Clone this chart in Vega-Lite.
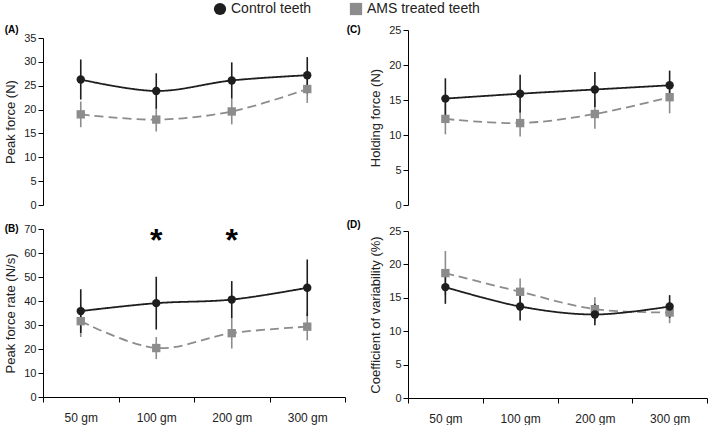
{
  "$schema": "https://vega.github.io/schema/vega-lite/v6.json",
  "padding": {"left": 4, "top": 2, "right": 0, "bottom": 2},
  "config": {
    "font": "Liberation Sans",
    "view": {"stroke": null},
    "axis": {"domainColor": "#000", "tickColor": "#000", "labelColor": "#222", "labelFontSize": 11, "titleFontSize": 13, "titleFontWeight": "normal", "titleColor": "#222", "grid": false, "tickSize": 5, "titlePadding": 6, "labelOverlap": false},
    "title": {"fontSize": 10, "fontWeight": "bold", "anchor": "start", "frame": "bounds", "color": "#000", "offset": 2}
  },
  "datasets": {
    "A": [
      {"dose": "50 gm", "group": "AMS treated teeth", "mean": 19.0, "lo": 16.3, "hi": 21.7},
      {"dose": "100 gm", "group": "AMS treated teeth", "mean": 17.9, "lo": 15.4, "hi": 20.4},
      {"dose": "200 gm", "group": "AMS treated teeth", "mean": 19.6, "lo": 16.9, "hi": 22.3},
      {"dose": "300 gm", "group": "AMS treated teeth", "mean": 24.3, "lo": 21.4, "hi": 27.2},
      {"dose": "50 gm", "group": "Control teeth", "mean": 26.3, "lo": 22.1, "hi": 30.5},
      {"dose": "100 gm", "group": "Control teeth", "mean": 23.9, "lo": 20.2, "hi": 27.6},
      {"dose": "200 gm", "group": "Control teeth", "mean": 26.1, "lo": 22.3, "hi": 29.9},
      {"dose": "300 gm", "group": "Control teeth", "mean": 27.2, "lo": 23.4, "hi": 31.0}
    ],
    "B": [
      {"dose": "50 gm", "group": "AMS treated teeth", "mean": 31.6, "lo": 25.0, "hi": 38.2},
      {"dose": "100 gm", "group": "AMS treated teeth", "mean": 20.4, "lo": 15.8, "hi": 25.0},
      {"dose": "200 gm", "group": "AMS treated teeth", "mean": 26.6, "lo": 20.2, "hi": 33.0},
      {"dose": "300 gm", "group": "AMS treated teeth", "mean": 29.3, "lo": 23.6, "hi": 35.0},
      {"dose": "50 gm", "group": "Control teeth", "mean": 35.8, "lo": 26.7, "hi": 44.9},
      {"dose": "100 gm", "group": "Control teeth", "mean": 39.1, "lo": 28.1, "hi": 50.1},
      {"dose": "200 gm", "group": "Control teeth", "mean": 40.6, "lo": 32.9, "hi": 48.3},
      {"dose": "300 gm", "group": "Control teeth", "mean": 45.5, "lo": 33.7, "hi": 57.3}
    ],
    "C": [
      {"dose": "50 gm", "group": "AMS treated teeth", "mean": 12.3, "lo": 10.1, "hi": 14.5},
      {"dose": "100 gm", "group": "AMS treated teeth", "mean": 11.7, "lo": 9.8, "hi": 13.6},
      {"dose": "200 gm", "group": "AMS treated teeth", "mean": 13.0, "lo": 10.9, "hi": 15.1},
      {"dose": "300 gm", "group": "AMS treated teeth", "mean": 15.4, "lo": 13.1, "hi": 17.7},
      {"dose": "50 gm", "group": "Control teeth", "mean": 15.2, "lo": 12.3, "hi": 18.1},
      {"dose": "100 gm", "group": "Control teeth", "mean": 15.9, "lo": 13.2, "hi": 18.6},
      {"dose": "200 gm", "group": "Control teeth", "mean": 16.5, "lo": 14.0, "hi": 19.0},
      {"dose": "300 gm", "group": "Control teeth", "mean": 17.1, "lo": 15.0, "hi": 19.2}
    ],
    "D": [
      {"dose": "50 gm", "group": "AMS treated teeth", "mean": 18.7, "lo": 15.4, "hi": 22.0},
      {"dose": "100 gm", "group": "AMS treated teeth", "mean": 15.9, "lo": 13.9, "hi": 17.9},
      {"dose": "200 gm", "group": "AMS treated teeth", "mean": 13.3, "lo": 11.5, "hi": 15.1},
      {"dose": "300 gm", "group": "AMS treated teeth", "mean": 12.8, "lo": 11.2, "hi": 14.4},
      {"dose": "50 gm", "group": "Control teeth", "mean": 16.6, "lo": 14.1, "hi": 19.1},
      {"dose": "100 gm", "group": "Control teeth", "mean": 13.7, "lo": 11.6, "hi": 15.8},
      {"dose": "200 gm", "group": "Control teeth", "mean": 12.5, "lo": 10.9, "hi": 14.1},
      {"dose": "300 gm", "group": "Control teeth", "mean": 13.7, "lo": 12.0, "hi": 15.4}
    ],
    "stars": [
      {"dose": "100 gm", "y": 65, "t": "*"},
      {"dose": "200 gm", "y": 65, "t": "*"}
    ]
  },
  "hconcat": [
    {
      "spacing": 24,
      "bounds": "flush",
      "vconcat": [
        {
          "title": {"text": "(A)", "dy": 7},
          "width": 302, "height": 175,
          "data": {"name": "A"},
          "encoding": {
            "x": {"field": "dose", "type": "ordinal", "sort": ["50 gm", "100 gm", "200 gm", "300 gm"], "scale": {"type": "band", "paddingInner": 0, "paddingOuter": 0}, "axis": null},
            "color": {"field": "group", "type": "nominal", "scale": {"domain": ["Control teeth", "AMS treated teeth"], "range": ["#1e1e1e", "#8c8c8c"]}, "legend": {"orient": "none", "legendX": 170, "legendY": -28, "direction": "horizontal", "title": null, "labelFontSize": 14, "labelColor": "#222", "symbolSize": 150, "columnPadding": 37, "labelOffset": 4, "symbolStrokeWidth": 0}}
          },
          "layer": [
            {"mark": {"type": "rule", "strokeWidth": 1.6}, "encoding": {"y": {"field": "lo", "type": "quantitative", "scale": {"domain": [0, 35], "nice": false, "range": [175, 8]}, "axis": {"values": [0, 5, 10, 15, 20, 25, 30, 35], "title": "Peak force (N)"}}, "y2": {"field": "hi"}}},
            {"mark": {"type": "line", "strokeWidth": 1.8, "interpolate": "catmull-rom"}, "encoding": {"y": {"field": "mean", "type": "quantitative", "scale": {"domain": [0, 35], "nice": false, "range": [175, 8]}, "axis": {"values": [0, 5, 10, 15, 20, 25, 30, 35], "title": "Peak force (N)"}}, "strokeDash": {"field": "group", "type": "nominal", "scale": {"domain": ["Control teeth", "AMS treated teeth"], "range": [[1, 0], [9, 5]]}, "legend": null}}},
            {"mark": {"type": "point", "filled": true, "opacity": 1, "size": 70}, "encoding": {"y": {"field": "mean", "type": "quantitative", "scale": {"domain": [0, 35], "nice": false, "range": [175, 8]}, "axis": {"values": [0, 5, 10, 15, 20, 25, 30, 35], "title": "Peak force (N)"}}, "shape": {"field": "group", "type": "nominal", "scale": {"domain": ["Control teeth", "AMS treated teeth"], "range": ["circle", "square"]}, "legend": {"orient": "none", "legendX": 170, "legendY": -28, "direction": "horizontal", "title": null, "labelFontSize": 14, "labelColor": "#222", "symbolSize": 150, "columnPadding": 37, "labelOffset": 4, "symbolStrokeWidth": 0}}}}
          ]
        },
        {
          "title": {"text": "(B)", "dy": 13},
          "width": 302, "height": 168,
          "data": {"name": "B"},
          "encoding": {
            "x": {"field": "dose", "type": "ordinal", "sort": ["50 gm", "100 gm", "200 gm", "300 gm"], "scale": {"type": "band", "paddingInner": 0, "paddingOuter": 0}, "axis": {"title": null, "tickBand": "extent", "labelAngle": 0, "labelFontSize": 12, "labelPadding": 10}},
            "color": {"field": "group", "type": "nominal"}
          },
          "layer": [
            {"mark": {"type": "rule", "strokeWidth": 1.6}, "encoding": {"y": {"field": "lo", "type": "quantitative", "scale": {"domain": [0, 70], "nice": false}, "axis": {"values": [0, 10, 20, 30, 40, 50, 60, 70], "title": "Peak force rate (N/s)"}}, "y2": {"field": "hi"}}},
            {"mark": {"type": "line", "strokeWidth": 1.8, "interpolate": "catmull-rom"}, "encoding": {"y": {"field": "mean", "type": "quantitative", "scale": {"domain": [0, 70], "nice": false}, "axis": {"values": [0, 10, 20, 30, 40, 50, 60, 70], "title": "Peak force rate (N/s)"}}, "strokeDash": {"field": "group", "type": "nominal", "legend": null}}},
            {"mark": {"type": "point", "filled": true, "opacity": 1, "size": 70}, "encoding": {"y": {"field": "mean", "type": "quantitative", "scale": {"domain": [0, 70], "nice": false}, "axis": {"values": [0, 10, 20, 30, 40, 50, 60, 70], "title": "Peak force rate (N/s)"}}, "shape": {"field": "group", "type": "nominal"}}},
            {"data": {"name": "stars"}, "mark": {"type": "text", "fontSize": 32, "fontWeight": "bold", "baseline": "middle", "color": "#000"}, "encoding": {"y": {"field": "y", "type": "quantitative", "scale": {"domain": [0, 70], "nice": false}, "axis": {"values": [0, 10, 20, 30, 40, 50, 60, 70], "title": "Peak force rate (N/s)"}}, "text": {"field": "t"}, "color": {"value": "#000"}}}
          ]
        }
      ]
    },
    {
      "spacing": 26,
      "bounds": "flush",
      "vconcat": [
        {
          "title": {"text": "(C)", "dy": 13, "dx": -23},
          "width": 299, "height": 175,
          "data": {"name": "C"},
          "encoding": {
            "x": {"field": "dose", "type": "ordinal", "sort": ["50 gm", "100 gm", "200 gm", "300 gm"], "scale": {"type": "band", "paddingInner": 0, "paddingOuter": 0}, "axis": null},
            "color": {"field": "group", "type": "nominal"}
          },
          "layer": [
            {"mark": {"type": "rule", "strokeWidth": 1.6}, "encoding": {"y": {"field": "lo", "type": "quantitative", "scale": {"domain": [0, 25], "nice": false}, "axis": {"values": [0, 5, 10, 15, 20, 25], "title": "Holding force (N)"}}, "y2": {"field": "hi"}}},
            {"mark": {"type": "line", "strokeWidth": 1.8, "interpolate": "catmull-rom"}, "encoding": {"y": {"field": "mean", "type": "quantitative", "scale": {"domain": [0, 25], "nice": false}, "axis": {"values": [0, 5, 10, 15, 20, 25], "title": "Holding force (N)"}}, "strokeDash": {"field": "group", "type": "nominal", "legend": null}}},
            {"mark": {"type": "point", "filled": true, "opacity": 1, "size": 70}, "encoding": {"y": {"field": "mean", "type": "quantitative", "scale": {"domain": [0, 25], "nice": false}, "axis": {"values": [0, 5, 10, 15, 20, 25], "title": "Holding force (N)"}}, "shape": {"field": "group", "type": "nominal"}}}
          ]
        },
        {
          "title": {"text": "(D)", "dy": 7, "dx": -23},
          "width": 299, "height": 167,
          "data": {"name": "D"},
          "encoding": {
            "x": {"field": "dose", "type": "ordinal", "sort": ["50 gm", "100 gm", "200 gm", "300 gm"], "scale": {"type": "band", "paddingInner": 0, "paddingOuter": 0}, "axis": {"title": null, "tickBand": "extent", "labelAngle": 0, "labelFontSize": 12, "labelPadding": 10}},
            "color": {"field": "group", "type": "nominal"}
          },
          "layer": [
            {"mark": {"type": "rule", "strokeWidth": 1.6}, "encoding": {"y": {"field": "lo", "type": "quantitative", "scale": {"domain": [0, 25], "nice": false}, "axis": {"values": [0, 5, 10, 15, 20, 25], "title": "Coefficient of variability (%)"}}, "y2": {"field": "hi"}}},
            {"mark": {"type": "line", "strokeWidth": 1.8, "interpolate": "catmull-rom"}, "encoding": {"y": {"field": "mean", "type": "quantitative", "scale": {"domain": [0, 25], "nice": false}, "axis": {"values": [0, 5, 10, 15, 20, 25], "title": "Coefficient of variability (%)"}}, "strokeDash": {"field": "group", "type": "nominal", "legend": null}}},
            {"mark": {"type": "point", "filled": true, "opacity": 1, "size": 70}, "encoding": {"y": {"field": "mean", "type": "quantitative", "scale": {"domain": [0, 25], "nice": false}, "axis": {"values": [0, 5, 10, 15, 20, 25], "title": "Coefficient of variability (%)"}}, "shape": {"field": "group", "type": "nominal"}}}
          ]
        }
      ]
    }
  ],
  "spacing": 0
}
